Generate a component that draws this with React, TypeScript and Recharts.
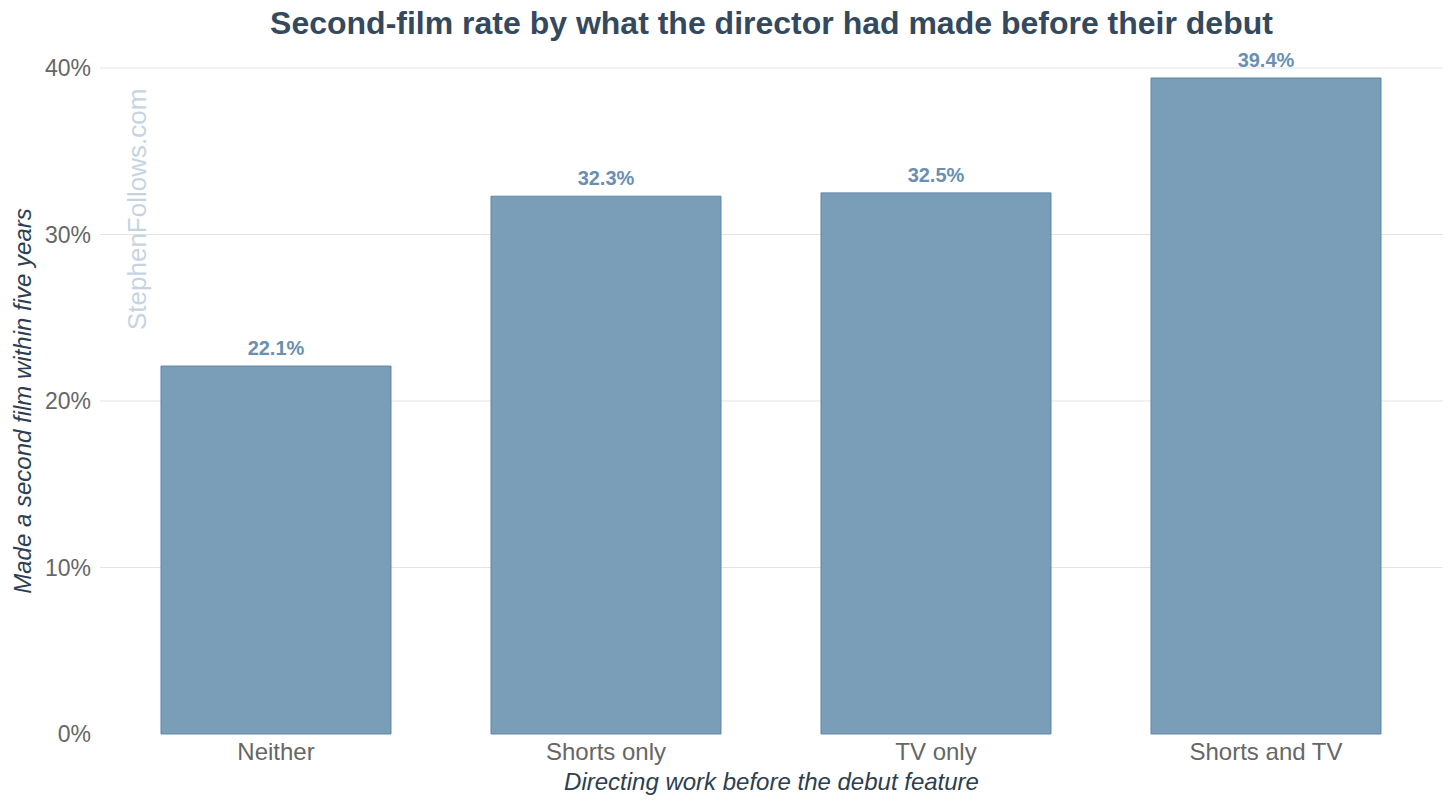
import React from 'react';
import { BarChart, Bar, XAxis, YAxis, CartesianGrid, LabelList } from 'recharts';

const categories = ['Neither', 'Shorts only', 'TV only', 'Shorts and TV'];
const secondFilmRate = [22.1, 32.3, 32.5, 39.4];
const yTicks = [0, 10, 20, 30, 40];

const data = categories.map((name, i) => ({ name, rate: secondFilmRate[i] }));

const FONT = '"Liberation Sans", Arial, Helvetica, sans-serif';

const App: React.FC = () => {
  return (
    <div style={{ position: 'absolute', left: 0, top: 0, width: 1456, height: 808, fontFamily: FONT, background: '#fff' }}>
      <div
        style={{
          position: 'absolute',
          left: 100,
          width: 1343,
          top: 5,
          textAlign: 'center',
          fontSize: 32,
          fontWeight: 'bold',
          color: '#34495e',
        }}
      >
        Second-film rate by what the director had made before their debut
      </div>
      <BarChart
        width={1456}
        height={808}
        data={data}
        margin={{ top: 68, right: 13, left: 0, bottom: 0 }}
        barCategoryGap="15.15%"
      >
        <CartesianGrid vertical={false} stroke="#e3e3e3" horizontalValues={[10, 20, 30, 40]} />
        <XAxis
          dataKey="name"
          height={74}
          axisLine={false}
          tickLine={false}
          tickSize={0}
          tickMargin={9}
          padding={{ left: 11, right: 12 }}
          tick={{ fill: '#666666', fontSize: 24, fontFamily: FONT }}
          label={{
            content: (props: any) => {
              const vb = props.viewBox;
              return (
                <text
                  x={vb.x + vb.width / 2}
                  y={vb.y + 56}
                  textAnchor="middle"
                  fill="#2c3e50"
                  fontSize={24}
                  fontStyle="italic"
                  fontFamily={FONT}
                >
                  Directing work before the debut feature
                </text>
              );
            },
          }}
        />
        <YAxis
          width={100}
          domain={[0, 40]}
          ticks={yTicks}
          axisLine={false}
          tickLine={false}
          tickSize={0}
          tickMargin={9}
          tickFormatter={(v: number) => `${v}%`}
          tick={{ fill: '#666666', fontSize: 23, fontFamily: FONT }}
          label={{
            content: (props: any) => {
              const vb = props.viewBox;
              const cy = vb.y + vb.height / 2;
              return (
                <text
                  x={31}
                  y={cy}
                  transform={`rotate(-90, 31, ${cy})`}
                  textAnchor="middle"
                  fill="#2c3e50"
                  fontSize={24}
                  fontStyle="italic"
                  fontFamily={FONT}
                >
                  Made a second film within five years
                </text>
              );
            },
          }}
        />
        <Bar dataKey="rate" fill="#7a9db8" stroke="#5f87a8" strokeWidth={1} isAnimationActive={false}>
          <LabelList
            dataKey="rate"
            position="top"
            offset={11}
            formatter={(v: any) => `${v}%`}
            style={{ fill: '#6a8fb2', fontSize: 20, fontWeight: 'bold', fontFamily: FONT }}
          />
        </Bar>
      </BarChart>
      <svg
        width={1456}
        height={808}
        style={{ position: 'absolute', left: 0, top: 0, pointerEvents: 'none' }}
      >
        <text
          x={146}
          y={330}
          transform="rotate(-90, 146, 330)"
          fill="#c6d4e1"
          fontSize={26}
          fontFamily={FONT}
        >
          StephenFollows.com
        </text>
      </svg>
    </div>
  );
};

export default App;
